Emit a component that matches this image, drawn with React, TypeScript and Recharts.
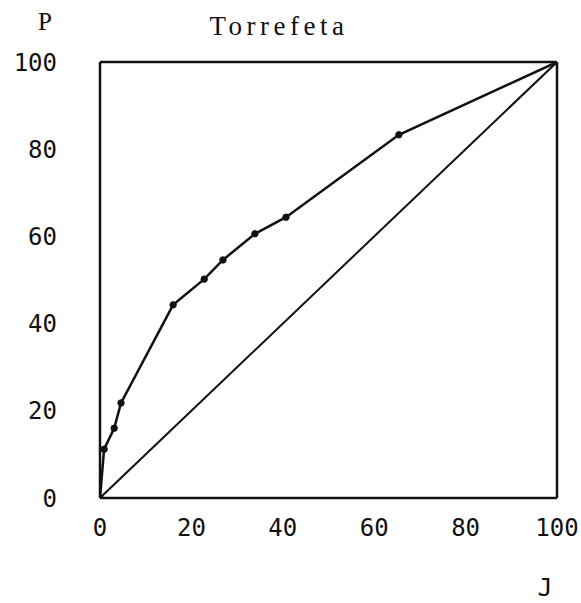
import React from 'react';
import { Line, LineChart, ReferenceLine, XAxis, YAxis } from 'recharts';

// cumulative share of landholders (J) vs. share of land (P), both in %
const J_VALUES = [0, 0.9, 3.1, 4.6, 16, 22.8, 26.9, 33.9, 40.7, 65.4, 100];
const P_VALUES = [0, 11.2, 16, 21.8, 44.3, 50.2, 54.6, 60.6, 64.4, 83.3, 100];
const EQUALITY_J = [0, 100];
const EQUALITY_P = [0, 100];
const TICKS = [0, 20, 40, 60, 80, 100];

const curveData = J_VALUES.map((j, i) => ({ j, p: P_VALUES[i] }));
const equalityData = EQUALITY_J.map((j, i) => ({ j, p: EQUALITY_P[i] }));

const W = 581;
const H = 603;
const INK = '#111';
const tickFont = { fontSize: 24, fontFamily: '"DejaVu Sans Mono", monospace', fill: INK };
const serif = '"Liberation Serif", "DejaVu Serif", serif';

const App: React.FC = () => {
  return (
    <div style={{ position: 'absolute', left: 0, top: 0, width: W, height: H, background: '#fff' }}>
      <LineChart width={W} height={H} margin={{ top: 62, right: 24, left: 0, bottom: 0 }}>
        <XAxis
          type="number"
          dataKey="j"
          domain={[0, 100]}
          ticks={TICKS}
          allowDataOverflow
          tick={tickFont}
          tickLine={false}
          tickSize={0}
          tickMargin={21}
          axisLine={{ stroke: INK, strokeWidth: 2.5 }}
          height={105}
        />
        <YAxis
          type="number"
          dataKey="p"
          domain={[0, 100]}
          ticks={TICKS}
          allowDataOverflow
          tick={tickFont}
          tickLine={false}
          tickSize={0}
          tickMargin={43}
          axisLine={{ stroke: INK, strokeWidth: 2.5 }}
          width={100}
        />
        <ReferenceLine y={100} stroke={INK} strokeWidth={2.5} />
        <ReferenceLine x={100} stroke={INK} strokeWidth={2.5} />
        <Line
          data={equalityData}
          dataKey="p"
          type="linear"
          stroke={INK}
          strokeWidth={2}
          dot={false}
          activeDot={false}
          isAnimationActive={false}
        />
        <Line
          data={curveData}
          dataKey="p"
          type="linear"
          stroke={INK}
          strokeWidth={2.5}
          dot={{ r: 3.2, fill: INK, stroke: INK, strokeWidth: 1 }}
          activeDot={false}
          isAnimationActive={false}
        />
      </LineChart>
      <svg
        width={W}
        height={H}
        style={{ position: 'absolute', left: 0, top: 0, pointerEvents: 'none' }}
      >
        <text x={279} y={35} textAnchor="middle" fontSize={27} letterSpacing={4.5} fontFamily={serif} fill={INK}>
          Torrefeta
        </text>
        <text x={45} y={30} textAnchor="middle" fontSize={25} fontFamily={serif} fill={INK}>
          P
        </text>
        <text x={545} y={596} textAnchor="middle" fontSize={25} fontFamily='"DejaVu Sans Mono", monospace' fill={INK}>
          J
        </text>
      </svg>
    </div>
  );
};

export default App;
